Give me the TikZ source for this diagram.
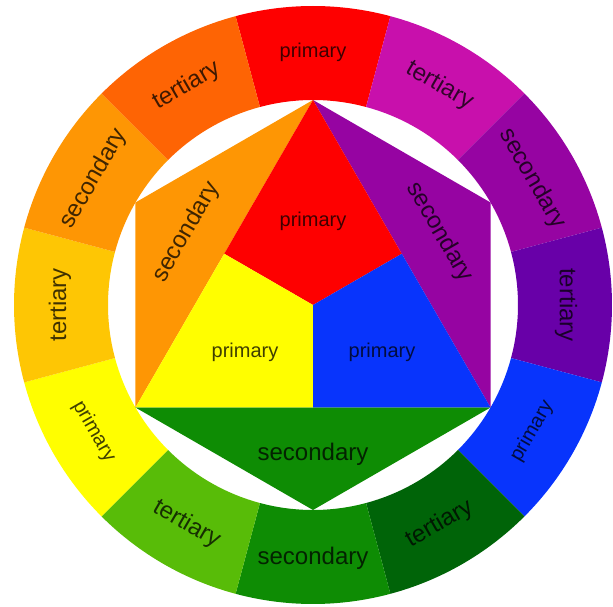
\documentclass[tikz,border=0pt]{standalone}
\usepackage{fontspec}
\setmainfont{Liberation Sans}
\definecolor{cRed}{RGB}{254,0,0}
\definecolor{cRedViolet}{RGB}{200,16,172}
\definecolor{cPurple}{RGB}{150,4,162}
\definecolor{cViolet}{RGB}{104,0,168}
\definecolor{cBlue}{RGB}{8,52,252}
\definecolor{cDarkGreen}{RGB}{0,100,8}
\definecolor{cGreen}{RGB}{14,140,4}
\definecolor{cYellowGreen}{RGB}{88,188,8}
\definecolor{cYellow}{RGB}{255,254,0}
\definecolor{cYellowOrange}{RGB}{254,198,4}
\definecolor{cOrange}{RGB}{254,150,4}
\definecolor{cRedOrange}{RGB}{254,100,4}
\tikzset{
  lbl/.style={text=black, text opacity=0.75, inner sep=0pt, font=\fontsize{24}{24}\selectfont},
  plbl/.style={lbl, font=\fontsize{20}{20}\selectfont},
}
\begin{document}
\begin{tikzpicture}[x=1pt,y=1pt]
\useasboundingbox (-313,-302) rectangle (300,305);
\def\Ri{205}
\def\Ro{299}
% ring segments
\foreach \th/\col in {90/cRed,60/cRedViolet,30/cPurple,0/cViolet,-30/cBlue,-60/cDarkGreen,-90/cGreen,-120/cYellowGreen,-150/cYellow,180/cYellowOrange,150/cOrange,120/cRedOrange}{
  \fill[\col] (\th-15:\Ri) arc[start angle=\th-15,end angle=\th+15,radius=\Ri]
     -- (\th+15:\Ro) arc[start angle=\th+15,end angle=\th-15,radius=\Ro] -- cycle;
}
% ring labels
\node[plbl] (r90) at (90:253) {primary};
\node[lbl,rotate=-30] (r60) at (60:253) {tertiary};
\node[lbl,rotate=-60] (r30) at (30:253) {secondary};
\node[lbl,rotate=-90] (r0) at (0:253) {tertiary};
\node[plbl,rotate=60] (rm30) at (-30:253) {primary};
\node[lbl,rotate=30] (rm60) at (-60:253) {tertiary};
\node[lbl] (rm90) at (-90:253) {secondary};
\node[lbl,rotate=-30] (rm120) at (-120:253) {tertiary};
\node[plbl,rotate=-60] (rm150) at (-150:253) {primary};
\node[lbl,rotate=90] (r180) at (180:253) {tertiary};
\node[lbl,rotate=60] (r150) at (150:253) {secondary};
\node[lbl,rotate=30] (r120) at (120:253) {tertiary};
% inner hexagon: secondary triangles
\coordinate (T) at (90:\Ri);
\coordinate (UL) at (150:\Ri);
\coordinate (LL) at (210:\Ri);
\coordinate (B) at (270:\Ri);
\coordinate (LR) at (330:\Ri);
\coordinate (UR) at (30:\Ri);
\coordinate (C) at (0,0);
\coordinate (ML) at (150:\Ri/2);
\coordinate (MR) at (30:\Ri/2);
\coordinate (MB) at (270:\Ri/2);
\fill[cOrange] (T) -- (UL) -- (LL) -- cycle;
\fill[cPurple] (T) -- (UR) -- (LR) -- cycle;
\fill[cGreen] (LL) -- (B) -- (LR) -- cycle;
% primary triangle
\fill[cRed] (T) -- (ML) -- (C) -- (MR) -- cycle;
\fill[cYellow] (ML) -- (LL) -- (MB) -- (C) -- cycle;
\fill[cBlue] (MR) -- (C) -- (MB) -- (LR) -- cycle;
% inner labels
\node[plbl] (ip1) at (0,84) {primary};
\node[plbl] (ip2) at (-68,-47) {primary};
\node[plbl] (ip3) at (69,-47) {primary};
\node[lbl,rotate=60] (is1) at (150:146) {secondary};
\node[lbl,rotate=-60] (is2) at (30:146) {secondary};
\node[lbl] (is3) at (0,-149) {secondary};
\end{tikzpicture}
\end{document}
